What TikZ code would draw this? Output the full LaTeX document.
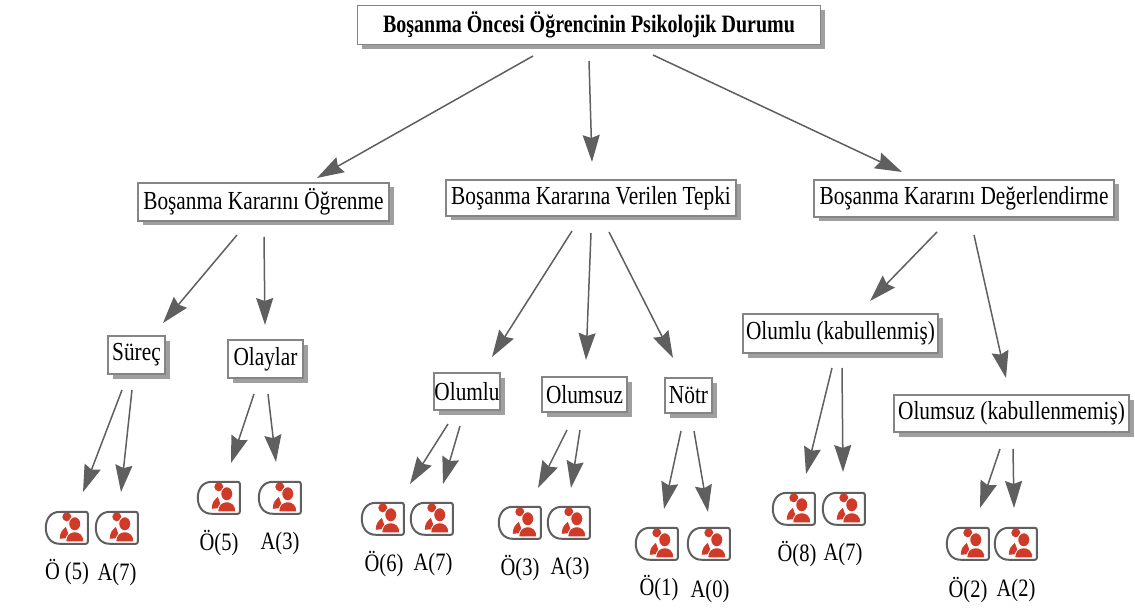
\documentclass[tikz,border=0pt]{standalone}
\usepackage{fontspec}
\usetikzlibrary{%
	arrows.meta,%
	shadows%
}
\setmainfont{Liberation Serif}
\newfontfamily\boxfont[FakeStretch=0.82]{Liberation Serif}
\newfontfamily\rootfont[FakeStretch=0.8]{Liberation Serif Bold}
\definecolor{linkgray}{HTML}{5F5F5F}
\definecolor{framegray}{HTML}{858585}
\definecolor{personred}{HTML}{D03A28}
\tikzset{
	box/.style={draw=framegray,line width=1.4pt,fill=white,inner sep=0pt,
		drop shadow={shadow xshift=4.5pt,shadow yshift=-4.5pt,fill=gray!75,opacity=1},
		font=\boxfont\fontsize{26}{28}\selectfont},
	rootbox/.style={box,font=\rootfont\fontsize{25}{28}\selectfont},
	link/.style={draw=linkgray,line width=1.5pt,-{Stealth[length=27pt,width=17pt,inset=3pt]},fill=linkgray},
	iconspot/.style={minimum width=42pt,minimum height=32pt,inner sep=0pt},
	count/.style={inner sep=0pt,font=\boxfont\fontsize{25}{28}\selectfont},
	personicon/.pic={
		\draw[linkgray,line width=2pt,rounded corners=2pt] (14,0) -- (42,0) -- (42,32) -- (14,32);
		\draw[linkgray,line width=2pt] (14,0) .. controls (5,0) and (0,7) .. (0,16) .. controls (0,25) and (5,32) .. (14,32);
		% back figure
		\fill[personred] (21,5) circle (4.5);
		\fill[personred] (14,27) .. controls (14,20) and (17,18) .. (20,15) -- (24,26) -- cycle;
		% front figure
		\fill[personred,draw=white,line width=.8pt] (29,12) ellipse (6 and 7);
		\fill[personred,draw=white,line width=.8pt] (20,30) .. controls (20,23) and (24,20) .. (29,20) .. controls (34,20) and (38,23) .. (38,30) -- cycle;
	}
}

\begin{document}
\begin{tikzpicture}[x=1pt,y=-1pt]
	\useasboundingbox (0,0) rectangle (1135,612);
	\node[rootbox,minimum width=463pt,minimum height=39pt] (root) at (589,25) {Boşanma Öncesi Öğrencinin Psikolojik Durumu};
	%
	\node[box,minimum width=251pt,minimum height=38pt] (ogrenme) at (263.5,202) {Boşanma Kararını Öğrenme};
	\node[box,minimum width=290pt,minimum height=36pt] (tepki) at (591,198) {Boşanma Kararına Verilen Tepki};
	\node[box,minimum width=300pt,minimum height=37pt] (deger) at (964,198.5) {Boşanma Kararını Değerlendirme};
	%
	\node[box,minimum width=57pt,minimum height=38pt] (surec) at (136.5,355) {Süreç};
	\node[box,minimum width=75pt,minimum height=38pt] (olay) at (265.5,359) {Olaylar};
	\node[box,minimum width=66pt,minimum height=37pt] (olumlu) at (467,391.5) {Olumlu};
	\node[box,minimum width=85pt,minimum height=35pt] (olumsuz) at (584.5,394.5) {Olumsuz};
	\node[box,minimum width=47pt,minimum height=35pt] (notr) at (688.5,395.5) {Nötr};
	\node[box,minimum width=195pt,minimum height=39pt] (kabul) at (840.5,333.5) {Olumlu (kabullenmiş)};
	\node[box,minimum width=235pt,minimum height=37pt] (kabulyok) at (1011.5,413.5) {Olumsuz (kabullenmemiş)};
	%
	\foreach \name/\x/\y/\lx/\ly/\txt in {
		s1/67/528/67/572/Ö (5), s2/117/528/117/574/A(7),
		o1/219/498/219/543/Ö(5), o2/280/498/280/543/A(3),
		l1/383/519/384/564/Ö(6), l2/432/519/433/564/A(7),
		m1/520/523/520/568/Ö(3), m2/569/523/570/568/A(3),
		n1/657/544/659/588/Ö(1), n2/709/544/710/591/A(0),
		p1/794/509/797/554/Ö(8), p2/844/509/843/554/A(7),
		q1/968/544/968/590/Ö(2), q2/1016/544/1016/590/A(2)}
	{
		\node[iconspot] (\name) at (\x,\y) {};
		\pic at (\name.north west) {personicon};
		\node[count] (\name-txt) at (\lx,\ly) {\txt};
	}
	%
	\foreach \from/\fx/\fy/\to/\tx/\ty in {
		root/-56/31/ogrenme/53.5/-24, root/0/36/tepki/1/-36, root/64/30/deger/-62/-26.5,
		ogrenme/-26.5/33/surec/26.5/-32, ogrenme/.5/35/olay/-.5/-34,
		tepki/-19/33/olumlu/25/-34.5, tepki/0/35/olumsuz/1.5/-34.5, tepki/18/34/notr/-15.5/-37.5,
		deger/-27/33.5/kabul/29.5/-32.5, deger/10/36.5/kabulyok/-5.5/-35.5,
		surec/-14.5/35/s1/16/-36, surec/-4.5/35/s2/4/-36,
		olay/-11.5/35/o1/12/-35, olay/2.5/35/o2/-4/-36,
		olumlu/-19/32.5/l1/27/-35, olumlu/-7/34.5/l2/11/-35,
		olumsuz/-17.5/35.5/m1/18/-35, olumsuz/-4.5/35.5/m2/2/-35,
		notr/-7.5/35.5/n1/7/-35, notr/5.5/35.5/n2/-1/-32,
		kabul/-8.5/34.5/p1/12/-35, kabul/1.5/34.5/p2/-1/-37,
		kabulyok/-11.5/35.5/q1/12/-36, kabulyok/1.5/35.5/q2/-2/-36}
	{
		\draw[link] ([shift={(\fx,\fy)}]\from.center) -- ([shift={(\tx,\ty)}]\to.center);
	}
\end{tikzpicture}
\end{document}
